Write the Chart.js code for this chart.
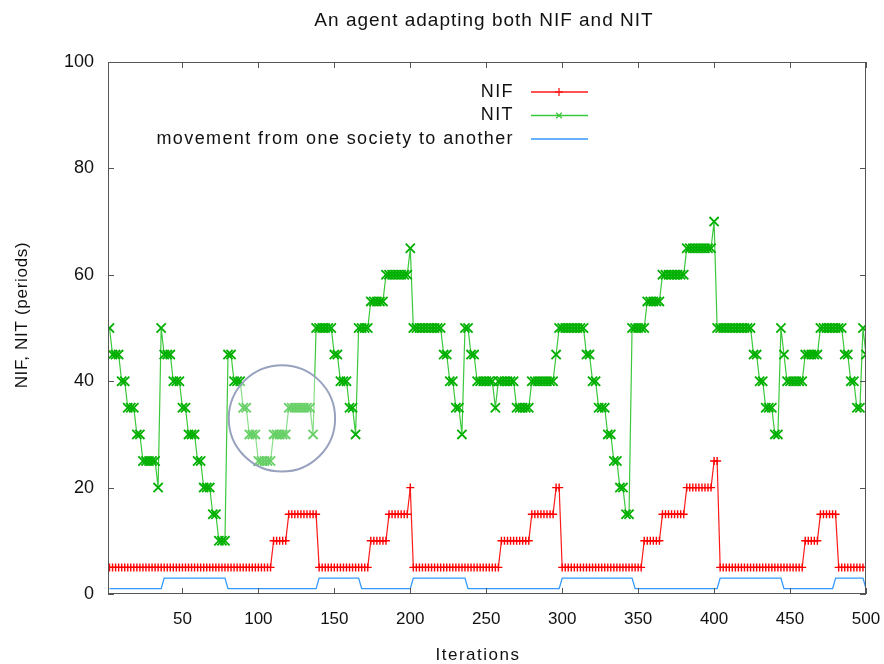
<!DOCTYPE html>
<html>
<head>
<meta charset="utf-8">
<script src="https://cdn.jsdelivr.net/npm/chart.js@4.4.0/dist/chart.umd.min.js"></script>
<style>
  html, body { margin: 0; padding: 0; background: #fff; }
</style>
</head>
<body>
<canvas id="nit_chart" width="884" height="664"></canvas>
<script>
// chart text
var chartTitle = "An agent adapting both NIF and NIT";
var xTitle = "Iterations";
var yTitle = "NIF, NIT (periods)";
var seriesNames = ["NIF", "NIT", "movement from one society to another"];

// axes
var xTicks = [50, 100, 150, 200, 250, 300, 350, 400, 450, 500];
var yTicks = [0, 20, 40, 60, 80, 100];

// values are logged every 2 iterations; each series is a step function:
// value[i] holds up to and including iteration until[i]
var nifValues = [5, 10, 15, 5, 10, 15, 20, 5, 10, 15, 20, 5, 10, 15, 20, 25, 5, 10, 15, 5];
var nifUntil  = [108, 118, 138, 172, 184, 198, 200, 258, 278, 294, 298, 352, 364, 380, 398, 402, 458, 468, 480, 500];

var nitValues = [50, 45, 40, 35, 30, 25, 20, 50, 45, 40, 35, 30, 25, 20, 15, 10,
                 45, 40, 35, 30, 25, 30, 35, 30, 50, 45, 40, 35, 30, 50, 55, 60, 65,
                 50, 45, 40, 35, 30, 50, 45, 40, 35, 40, 35, 40, 45, 50,
                 45, 40, 35, 30, 25, 20, 15, 50, 55, 60, 65, 70,
                 50, 45, 40, 35, 30, 50, 45, 40, 45, 50, 45, 40, 35, 50, 45];
var nitUntil  = [2, 8, 12, 18, 22, 32, 34, 36, 42, 48, 52, 58, 62, 68, 72, 78,
                 82, 88, 92, 98, 108, 118, 134, 136, 148, 152, 158, 162, 164, 172, 182, 198, 200,
                 220, 224, 228, 232, 234, 238, 242, 254, 256, 268, 278, 294, 296, 314,
                 318, 322, 328, 332, 336, 340, 344, 354, 364, 380, 398, 400,
                 424, 428, 432, 438, 442, 444, 446, 458, 468, 484, 488, 492, 496, 498, 500];

var moveValues = [1, 3, 1, 3, 1, 3, 1, 3, 1, 3, 1, 3, 1];
var moveUntil  = [36, 78, 138, 166, 200, 236, 298, 346, 402, 444, 478, 498, 500];

function stepPoints(values, until) {
  var pts = [];
  var k = 0;
  for (var it = 2; it <= 500; it += 2) {
    while (k < until.length - 1 && it > until[k]) k++;
    pts.push({ x: it, y: values[k] });
  }
  return pts;
}

var FONT = "'Liberation Sans', Arial, sans-serif";

var dataLine = {
  datasets: [
    {
      label: seriesNames[0],
      data: stepPoints(nifValues, nifUntil),
      borderColor: "#ff1a1a",
      borderWidth: 1.2,
      pointStyle: "cross",
      pointRadius: 4,
      pointBorderWidth: 1.4,
      pointBorderColor: "#ff0000",
      pointBackgroundColor: "#ff0000"
    },
    {
      label: seriesNames[1],
      data: stepPoints(nitValues, nitUntil),
      borderColor: "#3cc83c",
      borderWidth: 1.2,
      pointStyle: "crossRot",
      pointRadius: 6.5,
      pointBorderWidth: 1.8,
      pointBorderColor: "#00b000",
      pointBackgroundColor: "#00b000"
    },
    {
      label: seriesNames[2],
      data: stepPoints(moveValues, moveUntil),
      borderColor: "#3399ff",
      borderWidth: 1.3,
      pointRadius: 0
    }
  ]
};

// border, inward ticks, circle, legend, titles (gnuplot look)
var gnuplotDecor = {
  id: "gnuplotDecor",
  afterDatasetsDraw: function(chart) {
    var ctx = chart.ctx;
    var xs = chart.scales.x, ys = chart.scales.y;
    // highlight circle
    var cx = xs.getPixelForValue(115.5), cy = ys.getPixelForValue(33);
    var r = xs.getPixelForValue(115.5 + 35) - cx;
    ctx.save();
    ctx.beginPath();
    ctx.arc(cx, cy, r, 0, Math.PI * 2);
    ctx.fillStyle = "rgba(255,255,255,0.4)";
    ctx.fill();
    ctx.strokeStyle = "#98a2bf";
    ctx.lineWidth = 2;
    ctx.stroke();
    ctx.restore();
  },
  afterDraw: function(chart) {
    var ctx = chart.ctx;
    var a = chart.chartArea;
    var xs = chart.scales.x, ys = chart.scales.y;
    ctx.save();
    ctx.strokeStyle = "#555";
    ctx.lineWidth = 1;
    ctx.strokeRect(a.left + 0.5, a.top + 0.5, a.right - a.left - 1, a.bottom - a.top - 1);
    ctx.beginPath();
    xTicks.forEach(function(v) {
      var px = Math.round(xs.getPixelForValue(v)) + 0.5;
      ctx.moveTo(px, a.bottom); ctx.lineTo(px, a.bottom - 6);
      ctx.moveTo(px, a.top); ctx.lineTo(px, a.top + 6);
    });
    yTicks.forEach(function(v) {
      var py = Math.round(ys.getPixelForValue(v)) + 0.5;
      ctx.moveTo(a.left, py); ctx.lineTo(a.left + 6, py);
      ctx.moveTo(a.right, py); ctx.lineTo(a.right - 6, py);
    });
    ctx.stroke();

    // legend
    ctx.font = "18px " + FONT;
    ctx.letterSpacing = "1.4px";
    ctx.textAlign = "right";
    ctx.textBaseline = "middle";
    chart.data.datasets.forEach(function(ds, i) {
      var y = 92 + i * 23.5;
      ctx.fillStyle = "#111";
      ctx.fillText(ds.label, 514, y);
      ctx.strokeStyle = ds.borderColor;
      ctx.lineWidth = 1.3;
      ctx.beginPath();
      ctx.moveTo(531, y); ctx.lineTo(588, y);
      ctx.stroke();
      if (ds.pointRadius > 0) {
        Chart.helpers.drawPoint(ctx, {
          pointStyle: ds.pointStyle,
          radius: 4,
          borderWidth: 1.2
        }, 559, y);
      }
    });

    // titles
    ctx.fillStyle = "#111";
    ctx.textAlign = "center";
    ctx.font = "19px " + FONT;
    ctx.letterSpacing = "1px";
    ctx.fillText(chartTitle, 484, 21);
    ctx.font = "17px " + FONT;
    ctx.letterSpacing = "1.5px";
    ctx.fillText(xTitle, 478, 655);
    ctx.letterSpacing = "0.7px";
    ctx.translate(22, 315);
    ctx.rotate(-Math.PI / 2);
    ctx.fillText(yTitle, 0, 0);
    ctx.restore();
  }
};

function start() {
  var ctx = document.getElementById("nit_chart").getContext("2d");
  var LineChart = new Chart(ctx, {
    type: "line",
    data: dataLine,
    plugins: [gnuplotDecor],
    options: {
      responsive: false,
      animation: false,
      layout: { padding: { top: 62, right: 18, left: 0, bottom: 0 } },
      plugins: { legend: { display: false }, tooltip: { enabled: false }, title: { display: false } },
      elements: { line: { tension: 0 } },
      scales: {
        x: {
          type: "linear",
          min: 1,
          max: 500,
          afterFit: function(s) { s.height = 70; s.paddingLeft = 0; s.paddingRight = 0; },
          afterBuildTicks: function(s) { s.ticks = xTicks.map(function(v) { return { value: v }; }); },
          grid: { display: false, drawTicks: false },
          border: { display: false },
          ticks: { padding: 15, color: "#111", font: { family: FONT, size: 17 }, maxRotation: 0, autoSkip: false }
        },
        y: {
          min: 0,
          max: 100,
          afterFit: function(s) { s.width = 108; s.paddingTop = 0; s.paddingBottom = 0; },
          afterBuildTicks: function(s) { s.ticks = yTicks.map(function(v) { return { value: v }; }); },
          grid: { display: false, drawTicks: false },
          border: { display: false },
          ticks: { padding: 14, color: "#111", font: { family: FONT, size: 18 } }
        }
      }
    }
  });
}

window.onload = start;
</script>
</body>
</html>
